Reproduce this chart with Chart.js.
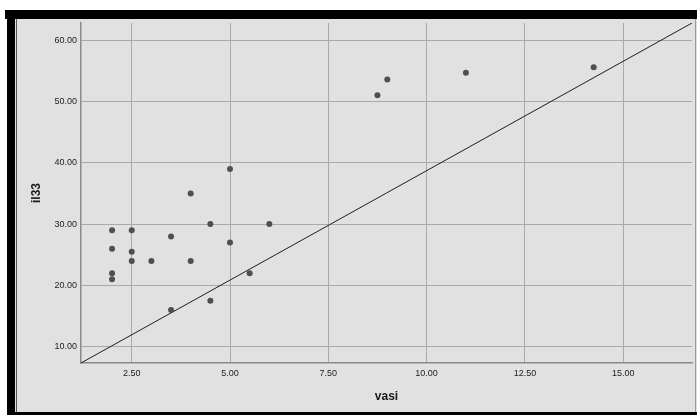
<!DOCTYPE html>
<html>
<head>
<meta charset="utf-8">
<style>
html,body{margin:0;padding:0;background:#fff;}
#wrap{position:absolute;left:0;top:0;width:697px;height:416px;}
</style>
<script src="https://cdn.jsdelivr.net/npm/chart.js@4.4.1/dist/chart.umd.min.js"></script>
</head>
<body>
<div id="wrap"><canvas id="c" width="697" height="416"></canvas></div>
<script>
// Data
const vasi = [2, 2, 2, 2, 2.5, 2.5, 2.5, 3, 3.5, 3.5, 4, 4, 4.5, 4.5, 5, 5, 5.5, 6, 8.75, 9, 11, 14.25];
const il33 = [29, 26, 22, 21, 29, 25.5, 24, 24, 28, 16, 35, 24, 30, 17.5, 39, 27, 22, 30, 51, 53.6, 54.7, 55.6];
const refLineX = [1.21, 16.75];
const refLineY = [7.35, 62.8];
const xTicks = [2.5, 5, 7.5, 10, 12.5, 15];
const yTicks = [10, 20, 30, 40, 50, 60];
const xRange = [1.21, 16.75];
const yRange = [7.35, 62.8];

const frame = {
  id: 'frame',
  beforeDraw(chart) {
    const ctx = chart.ctx;
    ctx.save();
    ctx.fillStyle = '#ffffff';
    ctx.fillRect(0, 0, 697, 416);
    ctx.fillStyle = '#e1e1e1';
    ctx.fillRect(15, 19, 682, 394);
    ctx.fillStyle = '#000000';
    ctx.fillRect(5, 10, 692, 9);
    ctx.fillRect(7, 10, 8, 404);
    ctx.fillRect(7, 412, 690, 3);
    ctx.strokeStyle = '#555555';
    ctx.lineWidth = 1;
    ctx.beginPath();
    ctx.moveTo(16.5, 19);
    ctx.lineTo(16.5, 412);
    ctx.stroke();
    ctx.strokeStyle = '#9a9a9a';
    ctx.beginPath();
    ctx.moveTo(695.5, 19);
    ctx.lineTo(695.5, 412);
    ctx.stroke();
    ctx.restore();
  }
};

const tickFont = {family: '"Liberation Sans", Arial, sans-serif', size: 9};
const titleFont = {family: '"Liberation Sans", Arial, sans-serif', size: 12, weight: 'bold'};

new Chart(document.getElementById('c'), {
  type: 'scatter',
  data: {
    datasets: [
      {
        data: vasi.map((v, i) => ({x: v, y: il33[i]})),
        backgroundColor: '#4f4f4f',
        borderWidth: 0,
        pointRadius: 3,
        pointHoverRadius: 3
      },
      {
        data: refLineX.map((v, i) => ({x: v, y: refLineY[i]})),
        showLine: true,
        borderColor: '#1e1e1e',
        borderWidth: 1,
        pointRadius: 0,
        fill: false
      }
    ]
  },
  options: {
    responsive: false,
    animation: false,
    devicePixelRatio: 1,
    layout: {padding: {left: 20, right: 5, top: 23, bottom: 0}},
    plugins: {legend: {display: false}, tooltip: {enabled: false}},
    scales: {
      x: {
        type: 'linear',
        min: xRange[0],
        max: xRange[1],
        afterBuildTicks: s => { s.ticks = xTicks.map(v => ({value: v})); },
        afterFit: s => { s.height = 53; },
        ticks: {
          font: tickFont, color: '#222', padding: 5,
          callback: v => v.toFixed(2), maxRotation: 0, autoSkip: false
        },
        grid: {color: '#a9a9a9', lineWidth: 1, drawTicks: false},
        border: {color: '#8a8a8a', width: 1.5},
        title: {display: true, text: 'vasi', font: titleFont, color: '#1a1a1a', padding: {top: 0, bottom: 12}}
      },
      y: {
        type: 'linear',
        min: yRange[0],
        max: yRange[1],
        afterBuildTicks: s => { s.ticks = yTicks.map(v => ({value: v})); },
        afterFit: s => { s.width = 61; },
        ticks: {
          font: tickFont, color: '#222', padding: 4,
          callback: v => v.toFixed(2), autoSkip: false
        },
        grid: {color: '#a9a9a9', lineWidth: 1, drawTicks: false},
        border: {color: '#8a8a8a', width: 1.5},
        title: {display: true, text: 'il33', font: titleFont, color: '#1a1a1a', padding: {top: 9, bottom: 0}}
      }
    }
  },
  plugins: [frame]
});
</script>
</body>
</html>
